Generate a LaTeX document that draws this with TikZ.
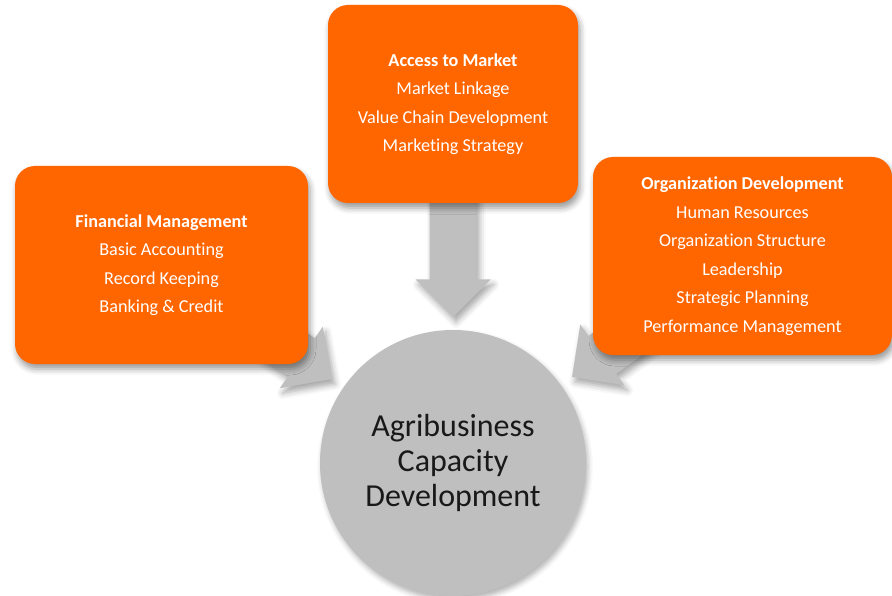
\documentclass[tikz,border=0pt]{standalone}
\usepackage{fontspec}
\setmainfont{Carlito}[Ligatures={NoCommon,NoRequired,NoContextual}]
\usetikzlibrary{shadows.blur}
\definecolor{orng}{RGB}{255,102,0}
\definecolor{agray}{RGB}{191,191,191}
\begin{document}
\begin{tikzpicture}[x=1pt,y=-1pt,
  box/.style={fill=orng, rounded corners=20pt, text=white, align=center,
    font=\fontsize{18.2}{28.5}\selectfont, inner sep=0pt,
    blur shadow={shadow xshift=2pt, shadow yshift=-5pt, shadow blur radius=6pt, shadow opacity=40}},
  hub/.style={circle, fill=agray, minimum size=266pt, inner sep=0pt, align=center,
    text=black!90, font=\fontsize{32}{35}\selectfont,
    blur shadow={shadow xshift=2pt, shadow yshift=-4pt, shadow blur radius=5pt, shadow opacity=30}},
  fatarrow/.style={fill=agray,
    blur shadow={shadow xshift=3pt, shadow yshift=-5pt, shadow blur radius=6pt, shadow opacity=35}}]
\useasboundingbox (0,0) rectangle (892,596);

% block arrows (behind boxes)
\coordinate (tipL) at (332,379);
\coordinate (tipT) at (453,317);
\coordinate (tipR) at (572,377);
\begin{scope}[shift={(tipL)}, rotate=-35]
  \fill[fatarrow] (0,0) -- (-37.5,37.5) -- (-37.5,23.5) -- (-130,23.5) -- (-130,-23.5) -- (-37.5,-23.5) -- (-37.5,-37.5) -- cycle;
\end{scope}
\begin{scope}[shift={(tipT)}, rotate=-90]
  \fill[fatarrow] (0,0) -- (-37.5,37.5) -- (-37.5,23.5) -- (-127,23.5) -- (-127,-23.5) -- (-37.5,-23.5) -- (-37.5,-37.5) -- cycle;
\end{scope}
\begin{scope}[shift={(tipR)}, rotate=-144]
  \fill[fatarrow] (0,0) -- (-37.5,37.5) -- (-37.5,23.5) -- (-130,23.5) -- (-130,-23.5) -- (-37.5,-23.5) -- (-37.5,-37.5) -- cycle;
\end{scope}

\node[box, minimum width=293pt, minimum height=198pt] (fin) at (161.5,265)
  {\textbf{Financial Management}\\Basic Accounting\\Record Keeping\\Banking \& Credit};
\node[box, minimum width=250pt, minimum height=198pt] (mkt) at (453,104)
  {\textbf{Access to Market}\\Market Linkage\\Value Chain Development\\Marketing Strategy};
\node[box, minimum width=299pt, minimum height=198pt] (org) at (742.5,256)
  {\textbf{Organization Development}\\Human Resources\\Organization Structure\\Leadership\\Strategic Planning\\Performance Management};

\node[hub] (core) at (453,463) {\raisebox{6pt}{\shortstack{Agribusiness\\[4.5pt]Capacity\\[4.5pt]Development}}};
\end{tikzpicture}
\end{document}
